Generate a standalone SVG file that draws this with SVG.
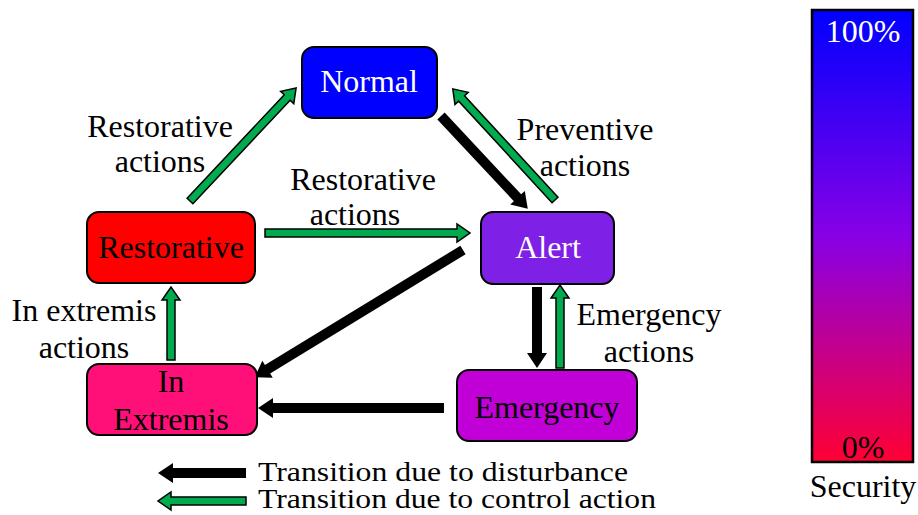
<svg xmlns="http://www.w3.org/2000/svg" width="918" height="515" viewBox="0 0 918 515" font-family="'Liberation Serif', 'DejaVu Serif', serif">
<defs>
<linearGradient id="sec" x1="0" y1="0" x2="0" y2="1">
<stop offset="0" stop-color="#0000FF"/>
<stop offset="0.5" stop-color="#8800E6"/>
<stop offset="1" stop-color="#FF0033"/>
</linearGradient>
<style>
text{font-family:'Liberation Serif','DejaVu Serif',serif;font-size:32px;text-anchor:middle;fill:#000}
.w{fill:#fff}
.node{stroke:#000;stroke-width:2}
.g{fill:#00AA4E;stroke:#000;stroke-width:1.5;stroke-linejoin:miter}
.k{fill:#000}
.l{text-anchor:start;font-size:27px}
</style>
</defs>
<rect width="918" height="515" fill="#fff"/>

<g id="connectors">
<polygon class="g" transform="translate(190,201) rotate(-46.8)" points="0,-4 142,-4 142,-9 155,0 142,9 142,4 0,4"/>
<polygon class="k" transform="translate(441,116) rotate(46.9)" points="0,-5 112,-5 112,-10 127,0 112,10 112,5 0,5"/>
<polygon class="g" transform="translate(555,200) rotate(-132.6)" points="0,-4 138,-4 138,-9 151,0 138,9 138,4 0,4"/>
<polygon class="g" transform="translate(265,233)" points="0,-4 192,-4 192,-9 205,0 192,9 192,4 0,4"/>
<polygon class="k" transform="translate(463,250) rotate(148.6)" points="0,-5 229,-5 229,-10 244,0 229,10 229,5 0,5"/>
<polygon class="k" transform="translate(537,287) rotate(90)" points="0,-5 66,-5 66,-10 81,0 66,10 66,5 0,5"/>
<polygon class="g" transform="translate(560,368) rotate(-90)" points="0,-4 70,-4 70,-9 83,0 70,9 70,4 0,4"/>
<polygon class="g" transform="translate(171,360) rotate(-90)" points="0,-4 60,-4 60,-9 73,0 60,9 60,4 0,4"/>
<polygon class="k" transform="translate(444,408) rotate(180)" points="0,-5 171,-5 171,-10 186,0 171,10 171,5 0,5"/>
<polygon class="k" transform="translate(246,473) rotate(180)" points="0,-5 73,-5 73,-10 88,0 73,10 73,5 0,5"/>
<polygon class="g" transform="translate(246,501) rotate(180)" points="0,-4 75,-4 75,-9 88,0 75,9 75,4 0,4"/>
</g>

<g id="normal">
<rect class="node" x="302" y="47" width="135" height="71" rx="12" fill="#0000FF"/>
<text class="w" x="369" y="92">Normal</text>
</g>
<g id="alert">
<rect class="node" x="481" y="212" width="133" height="72" rx="12" fill="#7F20E6"/>
<text class="w" x="548" y="258">Alert</text>
</g>
<g id="restorative">
<rect class="node" x="87" y="212" width="168" height="71" rx="12" fill="#FF0000"/>
<text x="171" y="258">Restorative</text>
</g>
<g id="inextremis">
<rect class="node" x="87" y="364" width="170" height="71" rx="12" fill="#FF0F78"/>
<text x="171" y="392">In</text>
<text x="171" y="430">Extremis</text>
</g>
<g id="emergency">
<rect class="node" x="457" y="370" width="180" height="71" rx="12" fill="#C000D6"/>
<text x="547" y="418">Emergency</text>
</g>

<g id="labels">
<text x="160" y="137">Restorative</text>
<text x="160" y="172">actions</text>
<text x="363" y="190">Restorative</text>
<text x="355" y="225">actions</text>
<text x="585" y="140">Preventive</text>
<text x="585" y="176">actions</text>
<text x="84" y="321">In extremis</text>
<text x="84" y="358">actions</text>
<text x="649" y="325">Emergency</text>
<text x="649" y="362">actions</text>
<text class="l" x="258" y="481" textLength="370" lengthAdjust="spacingAndGlyphs">Transition due to disturbance</text>
<text class="l" x="258" y="508" textLength="398" lengthAdjust="spacingAndGlyphs">Transition due to control action</text>
</g>

<g id="security">
<rect x="812" y="10" width="101" height="452" fill="url(#sec)" stroke="#000" stroke-width="2.5"/>
<text class="w" x="863" y="42">100%</text>
<text x="863" y="458">0%</text>
<text x="863" y="497">Security</text>
</g>
</svg>
